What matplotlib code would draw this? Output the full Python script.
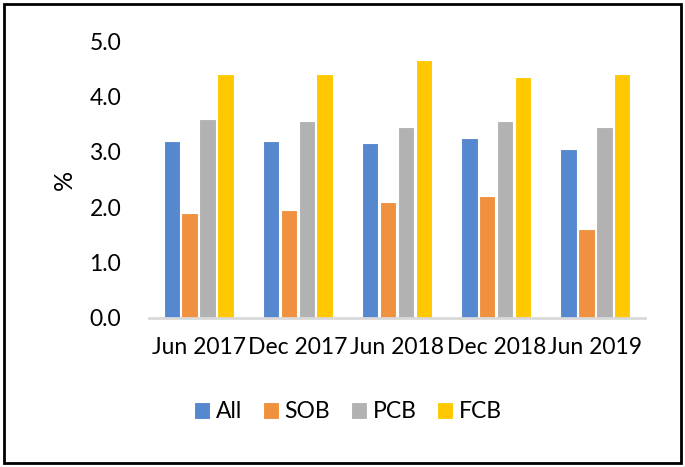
import numpy as np
from matplotlib import pyplot as plt
from matplotlib.patches import Rectangle

# data
periods = ["Jun 2017", "Dec 2017", "Jun 2018", "Dec 2018", "Jun 2019"]
series_names = ["All", "SOB", "PCB", "FCB"]
all_vals = [3.2, 3.2, 3.15, 3.25, 3.05]
sob_vals = [1.9, 1.95, 2.1, 2.2, 1.6]
pcb_vals = [3.6, 3.55, 3.45, 3.55, 3.45]
fcb_vals = [4.4, 4.4, 4.65, 4.35, 4.4]
colors = ["#5588CE", "#F0913F", "#B2B2B2", "#FFC800"]

plt.rcParams['font.family'] = ['Lato', 'DejaVu Sans']

fig = plt.figure(figsize=(6.85, 4.67), dpi=100)
ax = fig.add_axes([149/685, 1-318/467, 496/685, 277/467])

x = np.arange(len(periods))
bw = 0.165
step = 0.18
values = [all_vals, sob_vals, pcb_vals, fcb_vals]
for i in range(4):
    ax.bar(x + (i-1.5)*step, values[i], bw, color=colors[i],
           edgecolor="white", linewidth=0.8, label=series_names[i])

ax.set_xlim(-0.5, 4.5)
ax.set_ylim(0, 5)
ax.set_yticks(np.arange(0, 5.1, 1.0))
ax.set_yticklabels(["%.1f" % v for v in np.arange(0, 5.1, 1.0)])
ax.set_xticks(x)
ax.set_xticklabels(periods)
ax.tick_params(axis='both', length=0, labelsize=16.5)
ax.tick_params(axis='x', pad=14)
ax.tick_params(axis='y', pad=20)
for s in ["top", "right", "left"]:
    ax.spines[s].set_visible(False)
ax.spines["bottom"].set_color("#D9D9D9")
ax.spines["bottom"].set_linewidth(2)
ax.set_ylabel("%", fontsize=18, labelpad=10)

fig.legend(loc="center", bbox_to_anchor=(348/685, 1-412/467), ncol=4,
           frameon=False, fontsize=16.5, handlelength=0.7, handleheight=0.7,
           handletextpad=0.25, columnspacing=0.9)

fig.patches.append(Rectangle((4/685, 4/467), 677/685, 459/467, transform=fig.transFigure,
                             fill=False, edgecolor="black", linewidth=2))

fig.savefig("out.png", dpi=100)
